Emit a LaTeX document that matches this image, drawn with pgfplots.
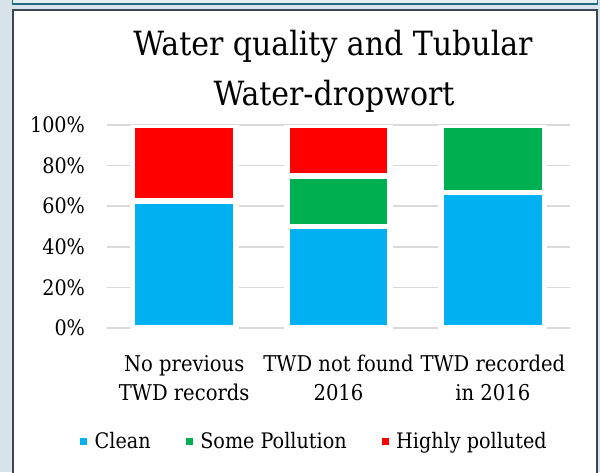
\documentclass[border=0pt]{standalone}
\usepackage{fontspec}
\setmainfont{DejaVu Serif Condensed}
\usepackage{pgfplots}
\pgfplotsset{compat=1.18}
\definecolor{bgc}{HTML}{D7E3E9}
\definecolor{topfill}{HTML}{E4EDF0}
\definecolor{tealc}{HTML}{1F6A7C}
\definecolor{framec}{HTML}{3A4556}
\definecolor{gridc}{HTML}{D9D9D9}
\definecolor{cleanc}{HTML}{00B0F0}
\definecolor{somec}{HTML}{00B050}
\definecolor{highc}{HTML}{FF0000}
\begin{document}
\begin{tikzpicture}
\useasboundingbox (0,0) rectangle (450pt,354pt);
\clip (0,0) rectangle (450pt,354pt);
\fill[bgc] (0,0) rectangle (450pt,354pt);
\filldraw[fill=topfill, draw=tealc, line width=1.2pt] (9.4pt,351.2pt) rectangle (448pt,362pt);
\filldraw[fill=white, draw=framec, line width=1.6pt] (9.9pt,-5pt) rectangle (447.9pt,346.6pt);
\node[font=\fontsize{25}{28}\selectfont, inner sep=0pt] at (249.75pt,318.75pt) {Water quality and Tubular};
\node[font=\fontsize{25}{28}\selectfont, inner sep=0pt] at (250.5pt,281.5pt) {Water-dropwort};
\begin{axis}[
  at={(80.25pt,108pt)}, anchor=south west,
  scale only axis, width=347.25pt, height=152.25pt,
  xmin=-0.5, xmax=2.5, ymin=0, ymax=100,
  ybar stacked, bar width=0.671,
  axis line style={draw=none},
  major tick length=0pt,
  ymajorgrids, major grid style={draw=gridc, line width=1.1pt},
  ytick={0,20,40,60,80,100},
  yticklabels={0\%,20\%,40\%,60\%,80\%,100\%},
  yticklabel style={font=\fontsize{16}{18}\selectfont, xshift=-13pt},
  xtick={0,1,2},
  xticklabels={{No previous\\TWD records},{TWD not found\\2016},{TWD recorded\\in 2016}},
  xticklabel style={font=\fontsize{16.3}{21.5}\selectfont, align=center, yshift=-17pt},
  legend columns=3,
  legend style={at={(0.449,-0.557)}, anchor=center, draw=none, fill=none,
    font=\fontsize{16}{18}\selectfont,
    /tikz/every odd column/.append style={column sep=3.5pt},
    /tikz/every even column/.append style={column sep=24.5pt}},
  legend image code/.code={\fill[#1, draw=none] (0pt,-2.6pt) rectangle (5.2pt,2.6pt);},
  every axis plot/.append style={draw=white, line width=4.2pt},
]
\addplot[fill=cleanc] coordinates {(0,62.5) (1,50) (2,66.7)};
\addplot[fill=somec] coordinates {(0,0) (1,25) (2,33.3)};
\addplot[fill=highc] coordinates {(0,37.5) (1,25) (2,0)};
\legend{Clean,Some Pollution,Highly polluted}
\draw[gridc, line width=1.3pt] (axis cs:-0.5,0) -- (axis cs:2.5,0);
\end{axis}
\end{tikzpicture}
\end{document}
